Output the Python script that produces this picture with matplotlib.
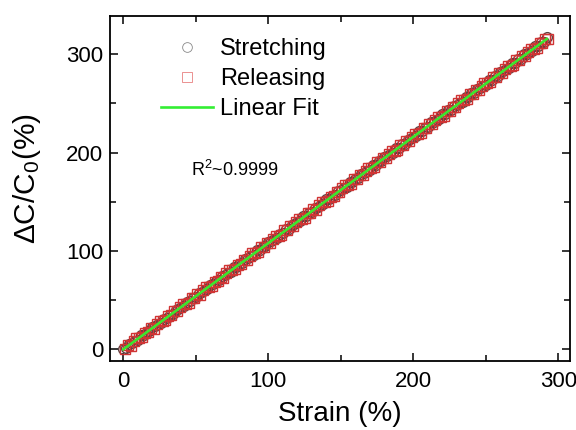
import matplotlib

matplotlib.use("Agg")
import matplotlib.pyplot as plt
import numpy as np
from matplotlib.ticker import MultipleLocator

plt.rcParams["font.family"] = ["Liberation Sans", "DejaVu Sans"]
plt.rcParams["mathtext.fontset"] = "custom"
plt.rcParams["mathtext.rm"] = "Liberation Sans"
plt.rcParams["mathtext.it"] = "Liberation Sans:italic"

# stretching run (strain %, dC/C0 %)
stretch_strain = [0, 2, 4, 6, 8, 10, 12, 14, 16, 18, 20, 22, 24, 26, 28, 30, 32, 34, 36, 38,
                  40, 42, 44, 46, 48, 50, 52, 54, 56, 58, 60, 62, 64, 66, 68, 70, 72, 74, 76,
                  78, 80, 82, 84, 86, 88, 90, 92, 94, 96, 98, 100, 102, 104, 106, 108, 110,
                  112, 114, 116, 118, 120, 122, 124, 126, 128, 130, 132, 134, 136, 138, 140,
                  142, 144, 146, 148, 150, 152, 154, 156, 158, 160, 162, 164, 166, 168, 170,
                  172, 174, 176, 178, 180, 182, 184, 186, 188, 190, 192, 194, 196, 198, 200,
                  202, 204, 206, 208, 210, 212, 214, 216, 218, 220, 222, 224, 226, 228, 230,
                  232, 234, 236, 238, 240, 242, 244, 246, 248, 250, 252, 254, 256, 258, 260,
                  262, 264, 266, 268, 270, 272, 274, 276, 278, 280, 282, 284, 286, 288, 290,
                  292]
stretch_dc = [0.8, 1.1, 5.8, 6.1, 8.8, 9.2, 14.1, 14.4, 18.1, 18.3, 23.1, 23.4, 26.1, 26.5,
              31.3, 31.7, 35.4, 35.6, 40.4, 40.6, 43.4, 43.8, 48.6, 49.0, 52.6, 52.9, 57.7,
              57.9, 60.7, 61.0, 65.9, 66.3, 69.9, 70.2, 74.9, 75.2, 78.0, 78.3, 83.2, 83.5,
              87.2, 87.5, 92.2, 92.5, 95.2, 95.6, 100.5, 100.8, 104.5, 104.7, 109.5, 109.8,
              112.5, 112.9, 117.7, 118.1, 121.8, 122.0, 126.8, 127.0, 129.8, 130.2, 135.0,
              135.4, 139.0, 139.3, 144.1, 144.3, 147.1, 147.4, 152.3, 152.7, 156.3, 156.6,
              161.3, 161.6, 164.4, 164.7, 169.6, 169.9, 173.6, 173.9, 178.6, 178.9, 181.6,
              182.0, 186.9, 187.2, 190.9, 191.1, 195.9, 196.2, 198.9, 199.3, 204.1, 204.5,
              208.2, 208.4, 213.2, 213.4, 216.2, 216.6, 221.4, 221.8, 225.4, 225.7, 230.5,
              230.7, 233.5, 233.8, 238.7, 239.1, 242.7, 243.0, 247.7, 248.0, 250.8, 251.1,
              256.0, 256.3, 260.0, 260.3, 265.0, 265.3, 268.0, 268.4, 273.3, 273.6, 277.3,
              277.5, 282.3, 282.6, 285.3, 285.7, 290.5, 290.9, 294.6, 294.8, 299.6, 299.8,
              302.6, 303.0, 307.8, 308.2, 311.8, 312.1, 316.9]

# releasing run
release_strain = [1, 3, 5, 7, 9, 11, 13, 15, 17, 19, 21, 23, 25, 27, 29, 31, 33, 35, 37, 39,
                  41, 43, 45, 47, 49, 51, 53, 55, 57, 59, 61, 63, 65, 67, 69, 71, 73, 75, 77,
                  79, 81, 83, 85, 87, 89, 91, 93, 95, 97, 99, 101, 103, 105, 107, 109, 111,
                  113, 115, 117, 119, 121, 123, 125, 127, 129, 131, 133, 135, 137, 139, 141,
                  143, 145, 147, 149, 151, 153, 155, 157, 159, 161, 163, 165, 167, 169, 171,
                  173, 175, 177, 179, 181, 183, 185, 187, 189, 191, 193, 195, 197, 199, 201,
                  203, 205, 207, 209, 211, 213, 215, 217, 219, 221, 223, 225, 227, 229, 231,
                  233, 235, 237, 239, 241, 243, 245, 247, 249, 251, 253, 255, 257, 259, 261,
                  263, 265, 267, 269, 271, 273, 275, 277, 279, 281, 283, 285, 287, 289, 291,
                  293]
release_dc = [0.2, 4.5, 3.9, 8.1, 11.4, 11.6, 12.8, 17.1, 17.5, 21.8, 21.2, 25.3, 28.7, 28.9,
              30.1, 34.4, 34.7, 39.1, 38.5, 42.6, 46.0, 46.1, 47.4, 51.7, 52.0, 56.4, 55.7,
              59.9, 63.3, 63.4, 64.7, 68.9, 69.3, 73.7, 73.0, 77.2, 80.5, 80.7, 82.0, 86.2,
              86.6, 90.9, 90.3, 94.5, 97.8, 98.0, 99.2, 103.5, 103.9, 108.2, 107.6, 111.7,
              115.1, 115.3, 116.5, 120.8, 121.1, 125.5, 124.9, 129.0, 132.4, 132.5, 133.8,
              138.1, 138.4, 142.8, 142.1, 146.3, 149.7, 149.8, 151.1, 155.3, 155.7, 160.1,
              159.4, 163.6, 166.9, 167.1, 168.4, 172.6, 173.0, 177.3, 176.7, 180.9, 184.2,
              184.4, 185.6, 189.9, 190.3, 194.6, 194.0, 198.1, 201.5, 201.7, 202.9, 207.2,
              207.5, 211.9, 211.3, 215.4, 218.8, 218.9, 220.2, 224.5, 224.8, 229.2, 228.5,
              232.7, 236.1, 236.2, 237.5, 241.7, 242.1, 246.5, 245.8, 250.0, 253.3, 253.5,
              254.8, 259.0, 259.4, 263.7, 263.1, 267.3, 270.6, 270.8, 272.0, 276.3, 276.7,
              281.0, 280.4, 284.5, 287.9, 288.1, 289.3, 293.6, 293.9, 298.3, 297.7, 301.8,
              305.2, 305.3, 306.6, 310.9, 311.2, 315.6, 314.9]

fig = plt.figure(figsize=(5.76, 4.30), dpi=100)
ax = fig.add_axes([0.191, 0.1605, 0.7986, 0.8023])

ax.plot(stretch_strain, stretch_dc, "o", ms=7, mfc="none", mec="#5a4040", mew=1.0,
        label="Stretching", zorder=2)
ax.plot(release_strain, release_dc, "s", ms=6.8, mfc="none", mec="#d03434", mew=1.0,
        label="Releasing", zorder=3)

all_x = np.array(stretch_strain + release_strain, dtype=float)
all_y = np.array(stretch_dc + release_dc, dtype=float)
slope, icpt = np.polyfit(all_x, all_y, 1)
fit_x = np.array([0, max(stretch_strain)], dtype=float)
ax.plot(fit_x, slope * fit_x + icpt, color="#3ce62e", lw=1.9, label="Linear Fit", zorder=4)

ax.set_xlim(-9.2, 308)
ax.set_ylim(-11.8, 338.7)
ax.xaxis.set_major_locator(MultipleLocator(100))
ax.xaxis.set_minor_locator(MultipleLocator(50))
ax.yaxis.set_major_locator(MultipleLocator(100))
ax.yaxis.set_minor_locator(MultipleLocator(50))
ax.tick_params(which="both", direction="in", top=True, right=True, width=1.1, labelsize=16)
ax.tick_params(which="major", length=6)
ax.tick_params(which="minor", length=4)
ax.tick_params(axis="x", pad=7)
ax.tick_params(axis="y", pad=5)
for sp in ax.spines.values():
    sp.set_linewidth(1.3)

ax.set_xlabel("Strain (%)", fontsize=20, labelpad=7)
ax.set_ylabel("ΔC/C$_0$(%)", fontsize=21.5)
ax.yaxis.set_label_coords(-0.146, 0.53)

leg = ax.legend(loc="upper left", bbox_to_anchor=(0.07, 0.99), frameon=False, fontsize=17,
                handlelength=2.2, handletextpad=0.3, labelspacing=0.33, borderaxespad=0.4)
for h in leg.legend_handles[:2]:
    h.set_markeredgewidth(0.6)
leg.legend_handles[0].set_markeredgecolor("#888888")
leg.legend_handles[1].set_markeredgecolor("#e88080")
leg.legend_handles[2].set_color("#33ee33")
ax.text(0.175, 0.535, "R$^2$~0.9999", transform=ax.transAxes, fontsize=13)

fig.savefig("out.png", dpi=100)
